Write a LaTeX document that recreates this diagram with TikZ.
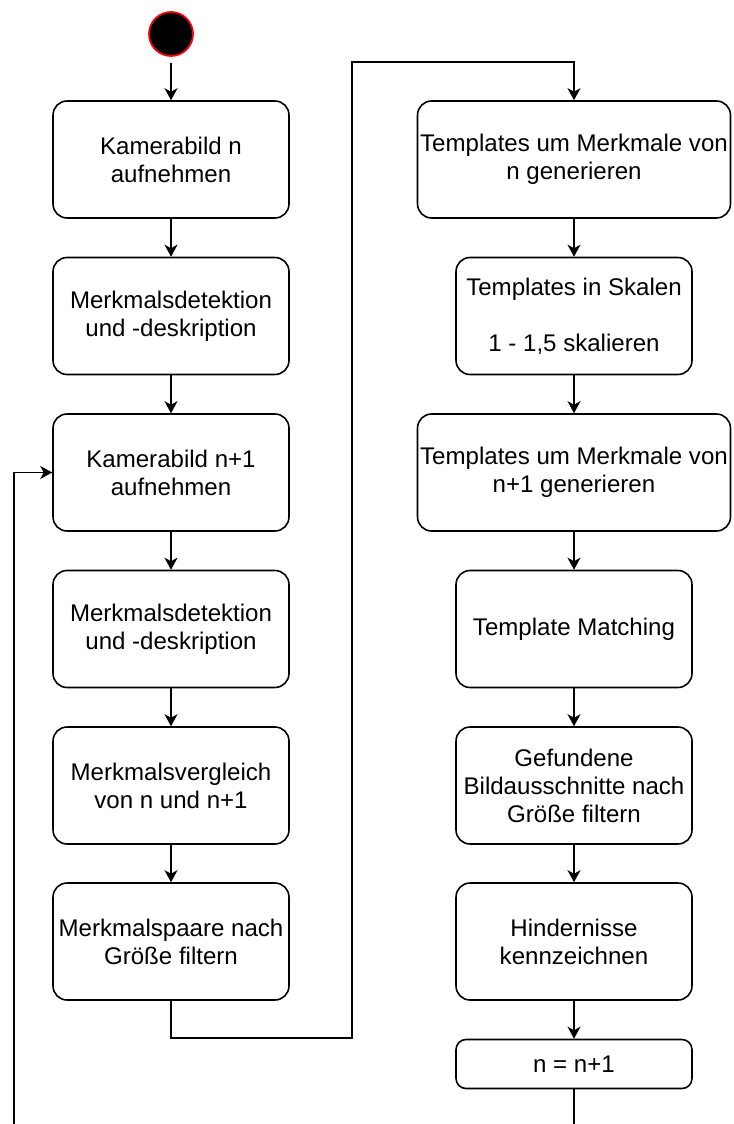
\documentclass[tikz,border=0pt]{standalone}
\usepackage{fontspec}
\setmainfont{Liberation Sans}
\usetikzlibrary{arrows.meta, positioning}

\begin{document}
\begin{tikzpicture}[x=0.02cm, y=-0.02cm,
    >={Stealth[length=0.24cm, width=0.26cm, inset=0.07cm]},
    stepbox/.style={draw, line width=0.9pt, rounded corners=0.28cm,
      minimum width=4.72cm, minimum height=2.34cm, align=center,
      inner sep=1pt, font=\fontsize{13.7}{15.9}\selectfont},
    widebox/.style={stepbox, minimum width=6.26cm},
    startdot/.style={circle, fill=black, draw=red, line width=1pt,
      minimum size=0.88cm, inner sep=0pt},
    flow/.style={line width=0.9pt, ->}]
      \useasboundingbox (0,0) rectangle (733,1124);
      % left column
      \node[startdot] (start) at (171,34) {};
      \node[stepbox] (k1)  at (171,159.5) {Kamerabild n\\aufnehmen};
      \node[stepbox] (d1)  at (171,316)   {Merkmalsdetektion\\und -deskription};
      \node[stepbox] (k2)  at (171,472.5) {Kamerabild n+1\\aufnehmen};
      \node[stepbox] (d2)  at (171,629)   {Merkmalsdetektion\\und -deskription};
      \node[stepbox] (cmp) at (171,785.5) {Merkmalsvergleich\\von n und n+1};
      \node[stepbox] (pf)  at (171,941.5) {Merkmalspaare nach\\Größe filtern};
      % right column
      \node[widebox] (t1)  at (574,159.5) {Templates um Merkmale von\\n generieren};
      \node[stepbox] (sc)  at (574,316)   {Templates in Skalen\\[15.9pt]1 - 1,5 skalieren};
      \node[widebox] (t2)  at (574,472.5) {Templates um Merkmale von\\n+1 generieren};
      \node[stepbox] (tm)  at (574,629)   {Template Matching};
      \node[stepbox] (gf)  at (574,785.5) {Gefundene\\Bildausschnitte nach\\Größe filtern};
      \node[stepbox] (hk)  at (574,941.5) {Hindernisse\\kennzeichnen};
      \node[stepbox, minimum height=0.98cm, rounded corners=0.2cm] (inc) at (574,1064) {n = n+1};
      % bend points
      \coordinate (c1) at (352,1038);
      \coordinate (c2) at (352,62);
      \coordinate (loopR) at (574,1124);
      \coordinate (loopL) at (14,1124);
      % arrows
      \draw[flow, shorten <=0.12cm] (start) -- (k1);
      \draw[flow] (k1) -- (d1);
      \draw[flow] (d1) -- (k2);
      \draw[flow] (k2) -- (d2);
      \draw[flow] (d2) -- (cmp);
      \draw[flow] (cmp) -- (pf);
      \draw[flow] (pf.south) |- (c1) -- (c2) -| (t1.north);
      \draw[flow] (t1) -- (sc);
      \draw[flow] (sc) -- (t2);
      \draw[flow] (t2) -- (tm);
      \draw[flow] (tm) -- (gf);
      \draw[flow] (gf) -- (hk);
      \draw[flow] (hk) -- (inc);
      \draw[line width=0.9pt] (inc) -- (loopR);
      \draw[flow] (loopL) |- (k2.west);
\end{tikzpicture}
\end{document}
